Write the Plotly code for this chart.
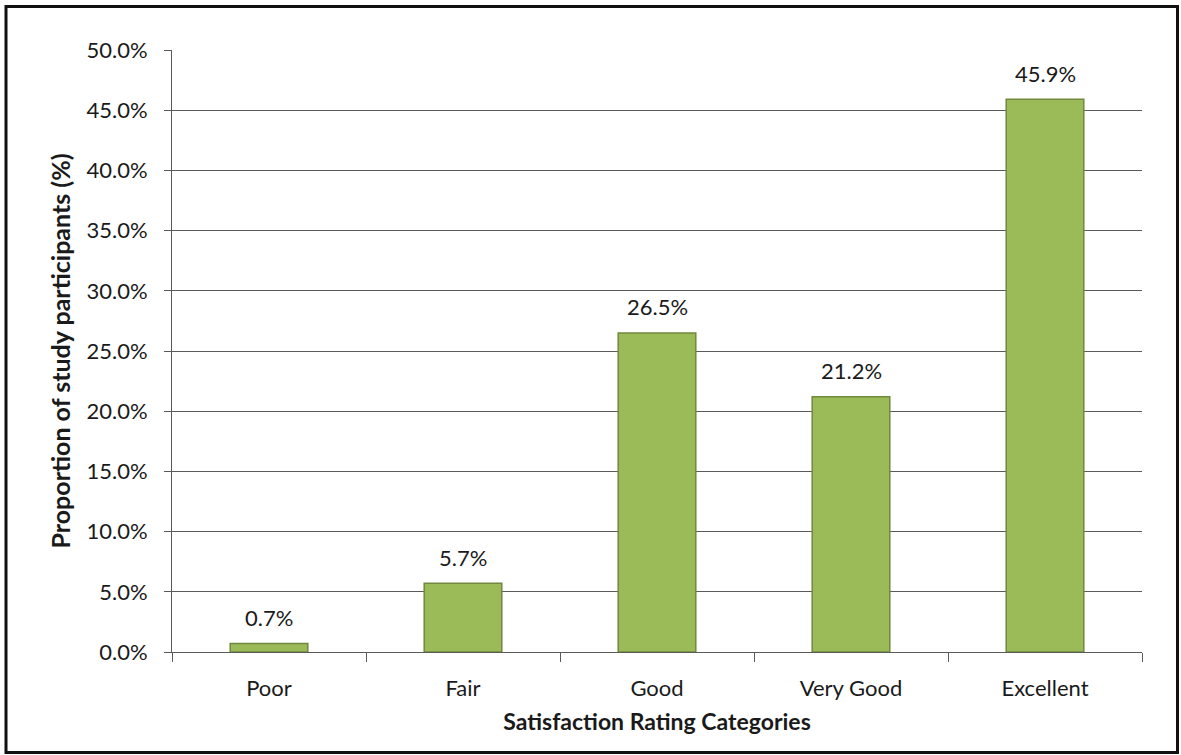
import plotly.graph_objects as go

categories = ["Poor", "Fair", "Good", "Very Good", "Excellent"]
proportions = [0.7, 5.7, 26.5, 21.2, 45.9]
y_ticks = [0, 5, 10, 15, 20, 25, 30, 35, 40, 45, 50]
y_tick_labels = [f"{v:.1f}%" for v in y_ticks]

W, H = 1181, 755
ML, MR, MT, MB = 172, 39, 50, 103
PW, PH = W - ML - MR, H - MT - MB

FONT = "Lato, 'Open Sans', sans-serif"
GRID = "#5a5a5a"
TXT = "#1a1a1a"

fig = go.Figure(
    go.Bar(
        x=categories,
        y=proportions,
        marker=dict(color="#9BBB59", line=dict(color="#71893F", width=1.5)),
        hoverinfo="skip",
    )
)

# value labels above each bar
for cat, val in zip(categories, proportions):
    fig.add_annotation(
        x=cat, y=val, xref="x", yref="y",
        text=f"{val:.1f}%", showarrow=False,
        yanchor="middle", yshift=26,
        font=dict(family=FONT, size=22, color=TXT),
    )


def px_x(p):
    return (p - ML) / PW


def px_y(p):
    return 1 - (p - MT) / PH


# outer frame of the chart
fig.add_shape(
    type="rect", xref="paper", yref="paper",
    x0=px_x(6), x1=px_x(1177.5), y0=px_y(752.5), y1=px_y(6.5),
    line=dict(color="#111111", width=3), layer="above",
)

fig.update_layout(
    width=W, height=H,
    margin=dict(l=ML, r=MR, t=MT, b=MB),
    plot_bgcolor="white", paper_bgcolor="white",
    bargap=0.6,
    showlegend=False,
    xaxis=dict(
        type="category",
        showline=True, linecolor=GRID, linewidth=1,
        ticks="outside", tickson="boundaries", ticklen=9, tickcolor=GRID,
        ticklabelstandoff=17,
        tickfont=dict(family=FONT, size=22, color=TXT),
        title=dict(text="<b>Satisfaction Rating Categories</b>",
                   font=dict(family=FONT, size=23, color=TXT), standoff=13),
        showgrid=False,
    ),
    yaxis=dict(
        range=[0, 50],
        tickvals=y_ticks, ticktext=y_tick_labels,
        showline=True, linecolor=GRID, linewidth=1,
        ticks="outside", ticklen=7, tickcolor=GRID,
        ticklabelstandoff=12,
        showgrid=True, gridcolor=GRID, gridwidth=1,
        zeroline=False,
        tickfont=dict(family=FONT, size=22, color=TXT),
        title=dict(text="<b>Proportion of study participants (%)</b>",
                   font=dict(family=FONT, size=25, color=TXT), standoff=8),
    ),
)

fig.write_html("out.html")
